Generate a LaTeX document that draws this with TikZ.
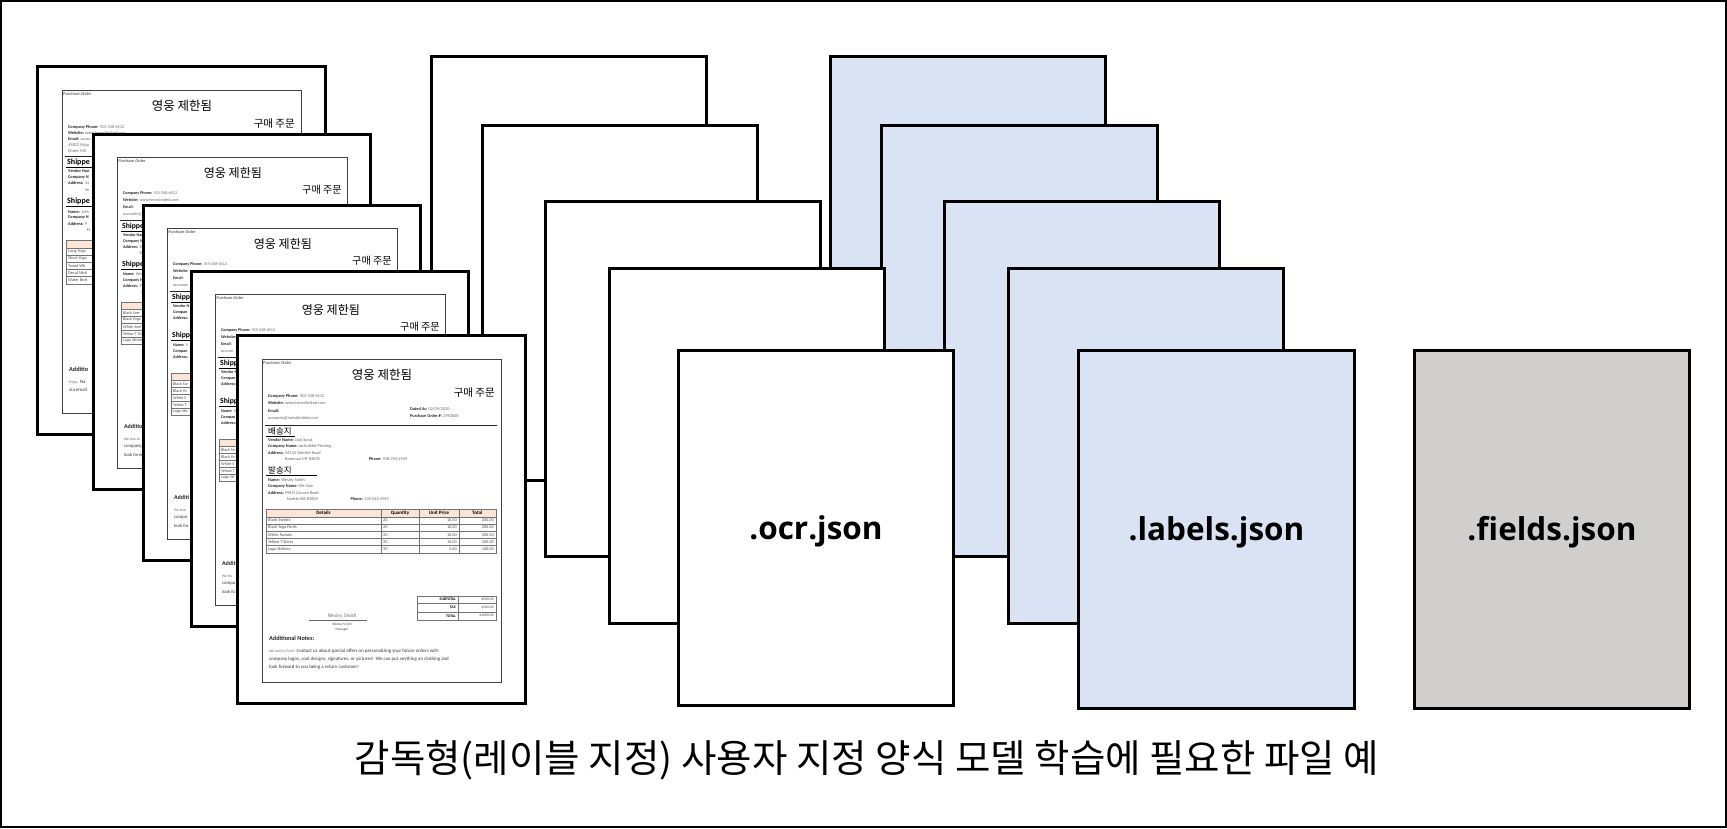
\documentclass[tikz,border=0pt]{standalone}
\usepackage{fontspec}
\setmainfont{Carlito}
\newfontfamily\kr{Noto Sans CJK KR}
\newfontfamily\lblfont{Open Sans}
\newfontfamily\sigfont{Liberation Serif}
\definecolor{pageblue}{RGB}{218,227,243}
\definecolor{pagegray}{RGB}{208,207,206}
\definecolor{peach}{RGB}{252,228,214}
\newcommand{\fs}[1]{\fontsize{#1}{#1}\selectfont}
\newcommand{\lv}[2]{{\bfseries\color{black!85}#1} {\color{black!60}#2}}
\newcommand{\bb}[1]{{\bfseries\color{black!85}#1}}
\tikzset{
  page/.style={draw=black, line width=3pt, fill=white},
  frm/.style={draw=black!75, line width=0.8pt},
  tx/.style={inner sep=0pt, anchor=west, font=\fs{4.3}},
  krt/.style={inner sep=0pt, text=black},
  tbl/.style={draw=black!55, line width=0.35pt},
  hd/.style={tx, font=\fs{8}\bfseries},
  khd/.style={tx, font=\kr\fs{8.5}},
  row/.style={tx, text=black!70},
  addn/.style={tx, font=\fs{6.2}\bfseries, text=black!85},
  note/.style={tx, font=\fs{4.9}, text=black!80},
  notes/.style={tx, font=\fs{3.8}, text=black!60},
  fileb/.style={draw=black, line width=3pt, minimum width=275.5pt, minimum height=355pt, inner sep=0pt},
  lbl/.style={inner sep=0pt, font=\lblfont\bfseries\fs{31.5}},
}
% non-text parts of a purchase-order page
\newcommand{\pgbody}[3]{%
\begin{scope}[shift={#1}, scale=#2]
\draw[page] (0,0) rectangle (288,368);
\draw[frm] (25,24) rectangle (264,347);
\draw[line width=1pt, black!85] (28,90) -- (260,90);
\ifnum#3=1 \draw[line width=0.6pt] (29,100.8) -- (58,100.8); \else \draw[line width=0.6pt] (29,100.8) -- (72,100.8); \fi
\draw[line width=0.6pt] (29,140) -- (80,140);
\fill[peach] (28.7,174) rectangle (258.7,181.7);
\draw[tbl] (28.7,174) rectangle (258.7,217.7);
\foreach \k in {181.7,188.9,196.1,203.3,210.5} \draw[tbl] (28.7,\k) -- (258.7,\k);
\foreach \k in {144,182,222} \draw[tbl] (\k,174) -- (\k,217.7);
\draw[tbl] (180.3,260.7) rectangle (258.7,285);
\draw[tbl] (180.3,268.3) -- (258.7,268.3) (180.3,276.7) -- (258.7,276.7) (220.7,260.7) -- (220.7,285);
\draw[black!60, line width=0.4pt] (72,285) -- (130,285);
\end{scope}}
% top texts shared by every page
\newcommand{\docTop}[1]{%
\node[tx, font=\fs{4.5}\itshape, text=black!80] (#1-po) at (26,27.5) {Purchase Order};
\node[krt, font=\kr\fs{12.5}] (#1-t1) at (145,40) {영웅 제한됨};
\node[krt, anchor=east, font=\kr\fs{10.5}] (#1-t2) at (258,58) {구매 주문};
\node[tx] (#1-c1) at (31,61.7) {\lv{Company Phone:}{555-348-6512}};}

\begin{document}
\begin{tikzpicture}[x=1pt,y=-1pt]
\useasboundingbox (0,0) rectangle (1727,828);
\draw[line width=2pt] (1,1) rectangle (1726,827);
% labelled-file stack (blue)
\node[fileb, fill=pageblue] (b1) at (968,233.5) {};
\node[fileb, fill=pageblue] (b2) at (1019.5,303) {};
\node[fileb, fill=pageblue] (b3) at (1082,379) {};
\node[fileb, fill=pageblue] (b4) at (1146,446) {};
\node[fileb, fill=pageblue, minimum height=358pt] (b5) at (1216.5,529) {};
% ocr stack (white)
\node[fileb, fill=white] (w1) at (569,233.5) {};
\node[fileb, fill=white] (w2) at (620,303) {};
\node[fileb, fill=white] (w3) at (683,379) {};
\node[fileb, fill=white] (w4) at (747,446) {};
\node[fileb, fill=white] (w5) at (816,527.5) {};
% fields file
\node[fileb, fill=pagegray, minimum height=358pt] (g1) at (1552,529) {};
\node[lbl] (w5t) at ([yshift=-3.5pt]w5.center) {.ocr.json};
\node[lbl] (b5t) at ([yshift=-3pt]b5.center) {.labels.json};
\node[lbl] (g1t) at ([yshift=-3pt]g1.center) {.fields.json};

% ---- document 1 (back)
\pgbody{(37,66)}{1}{0}
\begin{scope}[shift={(37,66)}, transform shape]
\docTop{d1}
\node[tx] (d1-c2) at (31,67.5) {\lv{Website:}{www.heroslimited.com}};
\node[tx] (d1-c3) at (31,73.3) {\lv{Email:}{accou}};
\node[tx, text=black!60] (d1-c4) at (31,79.1) {49823 Majo};
\node[tx, text=black!60] (d1-c5) at (31,84.9) {Cheer, MS,};
\node[hd] (d1-h1) at (30,96) {Shippe};
\node[tx] (d1-v1) at (31,105) {\bb{Vendor Nan}};
\node[tx] (d1-v2) at (31,111.3) {\bb{Company N}};
\node[tx] (d1-v3) at (31,117.5) {\lv{Address:}{34}};
\node[tx, text=black!60] (d1-v4) at (48,123.7) {Se};
\node[hd] (d1-h2) at (30,135) {Shippe};
\node[tx] (d1-s1) at (31,145.7) {\lv{Name:}{Josh}};
\node[tx] (d1-s2) at (31,151.7) {\bb{Company N}};
\node[tx] (d1-s3) at (31,157.7) {\lv{Address:}{9}};
\node[tx, text=black!60] (d1-s4) at (49.7,164) {Ft};
\node[row] (d1-r1) at (31,185.3) {Long Yoga};
\node[row] (d1-r2) at (31,192.5) {Short Yoga};
\node[row] (d1-r3) at (31,199.7) {Towel Wh};
\node[row] (d1-r4) at (31,206.9) {Decal Stick};
\node[row] (d1-r5) at (31,214.1) {Water Bott};
\node[addn] (d1-an) at (32,303.3) {Additio};
\node[note] (d1-n1) at (32,316.7) {{\fs{3.8}\color{black!60}Enjoy.} Na};
\node[note] (d1-n2) at (32,324.3) {via email};
\end{scope}

% ---- document 2 (back)
\pgbody{(93,134)}{0.965}{0}
\begin{scope}[shift={(93,134)}, scale=0.965, transform shape]
\docTop{d2}
\node[tx] (d2-c2) at (31,68.3) {\lv{Website:}{www.heroslimited.com}};
\node[tx] (d2-c3) at (31,75.7) {\bb{Email:}};
\node[tx, text=black!60] (d2-c4) at (31,83.3) {accounts@h};
\node[hd] (d2-h1) at (30,96) {Shippe};
\node[tx] (d2-v1) at (31,105) {\bb{Vendor Nam}};
\node[tx] (d2-v2) at (31,111.3) {\bb{Company N}};
\node[tx] (d2-v3) at (31,117.5) {\lv{Address:}{34}};
\node[tx, text=black!60] (d2-v4) at (48,123.7) {Bo};
\node[hd] (d2-h2) at (30,135) {Shippe};
\node[tx] (d2-s1) at (31,145.7) {\lv{Name:}{Wes}};
\node[tx] (d2-s2) at (31,151.7) {\bb{Company N}};
\node[tx] (d2-s3) at (31,157.7) {\lv{Address:}{99}};
\node[tx, text=black!60] (d2-s4) at (49.7,164) {Se};
\node[row] (d2-r1) at (31,185.3) {Black Swe};
\node[row] (d2-r2) at (31,192.5) {Black Yoga};
\node[row] (d2-r3) at (31,199.7) {White Swe};
\node[row] (d2-r4) at (31,206.9) {Yellow T Sh};
\node[row] (d2-r5) at (31,214.1) {Logo Sticke};
\node[addn] (d2-an) at (32,303.3) {Additio};
\node[notes] (d2-n1) at (32,316.7) {We love to};
\node[note] (d2-n2) at (32,324.3) {company};
\node[note] (d2-n3) at (32,332.7) {look forw};
\end{scope}

% ---- document 3 (back)
\pgbody{(143,205)}{0.965}{0}
\begin{scope}[shift={(143,205)}, scale=0.965, transform shape]
\docTop{d3}
\node[tx] (d3-c2) at (31,68.3) {\bb{Website:}};
\node[tx] (d3-c3) at (31,75.7) {\bb{Email:}};
\node[tx, text=black!60] (d3-c4) at (31,83.3) {accounts};
\node[hd] (d3-h1) at (30,96) {Shipp};
\node[tx] (d3-v1) at (31,105) {\bb{Vendor N}};
\node[tx] (d3-v2) at (31,111.3) {\bb{Compan}};
\node[tx] (d3-v3) at (31,117.5) {\bb{Address:}};
\node[hd] (d3-h2) at (30,135) {Shipp};
\node[tx] (d3-s1) at (31,145.7) {\lv{Name:}{V}};
\node[tx] (d3-s2) at (31,151.7) {\bb{Compan}};
\node[tx] (d3-s3) at (31,157.7) {\bb{Address:}};
\node[row] (d3-r1) at (31,185.3) {Black Sw};
\node[row] (d3-r2) at (31,192.5) {Black Yo};
\node[row] (d3-r3) at (31,199.7) {White S};
\node[row] (d3-r4) at (31,206.9) {Yellow T};
\node[row] (d3-r5) at (31,214.1) {Logo Stic};
\node[addn] (d3-an) at (32,303.3) {Additi};
\node[notes] (d3-n1) at (32,316.7) {We love};
\node[note] (d3-n2) at (32,324.3) {compa};
\node[note] (d3-n3) at (32,332.7) {look for};
\end{scope}

% ---- document 4 (back)
\pgbody{(191,271)}{0.965}{0}
\begin{scope}[shift={(191,271)}, scale=0.965, transform shape]
\docTop{d4}
\node[tx] (d4-c2) at (31,68.3) {\bb{Website:}};
\node[tx] (d4-c3) at (31,75.7) {\bb{Email:}};
\node[tx, text=black!60] (d4-c4) at (31,83.3) {accoun};
\node[hd] (d4-h1) at (30,96) {Shipp};
\node[tx] (d4-v1) at (31,105) {\bb{Vendor N}};
\node[tx] (d4-v2) at (31,111.3) {\bb{Compan}};
\node[tx] (d4-v3) at (31,117.5) {\bb{Address:}};
\node[hd] (d4-h2) at (30,135) {Shipp};
\node[tx] (d4-s1) at (31,145.7) {\lv{Name:}{V}};
\node[tx] (d4-s2) at (31,151.7) {\bb{Compan}};
\node[tx] (d4-s3) at (31,157.7) {\bb{Address:}};
\node[row] (d4-r1) at (31,185.3) {Black Se};
\node[row] (d4-r2) at (31,192.5) {Black Yo};
\node[row] (d4-r3) at (31,199.7) {White S};
\node[row] (d4-r4) at (31,206.9) {Yellow T};
\node[row] (d4-r5) at (31,214.1) {Logo Sti};
\node[addn] (d4-an) at (32,303.3) {Addit};
\node[notes] (d4-n1) at (32,316.7) {We lov};
\node[note] (d4-n2) at (32,324.3) {compa};
\node[note] (d4-n3) at (32,332.7) {look fo};
\end{scope}

% ---- document 5 (front, complete)
\pgbody{(237,335)}{1}{1}
\begin{scope}[shift={(237,335)}, transform shape]
\docTop{d5}
\node[tx] (d5-c2) at (31,68.3) {\lv{Website:}{www.heroslimited.com}};
\node[tx] (d5-c3) at (31,75.7) {\bb{Email:}};
\node[tx, text=black!60] (d5-c4) at (31,83.3) {accounts@heroslimited.com};
\node[tx] (d5-d1) at (173,74) {\lv{Dated As:}{02/09/2020}};
\node[tx] (d5-d2) at (173,80.7) {\lv{Purchase Order \#:}{2992848}};
\node[khd] (d5-h1) at (31,96) {배송지};
\node[khd] (d5-h2) at (31,135) {발송지};
\node[tx] (d5-v1) at (31,105) {\lv{Vendor Name:}{Jack Sprat}};
\node[tx] (d5-v2) at (31,111.3) {\lv{Company Name:}{Jackrabbit Printing}};
\node[tx] (d5-v3) at (31,117.5) {\lv{Address:}{342 W Wrinkle Road}};
\node[tx, text=black!60] (d5-v4) at (48,123.7) {Bozeman MT 83839};
\node[tx] (d5-v5) at (131.7,123.7) {\lv{Phone:}{938-294-2949}};
\node[tx] (d5-s1) at (31,145.7) {\lv{Name:}{Wesley Smith}};
\node[tx] (d5-s2) at (31,151.7) {\lv{Company Name:}{We Sew}};
\node[tx] (d5-s3) at (31,157.7) {\lv{Address:}{998 N Groove Road}};
\node[tx, text=black!60] (d5-s4) at (49.7,164) {Seattle WA 83838};
\node[tx] (d5-s5) at (113.3,164) {\lv{Phone:}{334-244-2949}};
\node[krt, font=\fs{5}\bfseries] (d5-th1) at (86.4,177.9) {Details};
\node[krt, font=\fs{5}\bfseries] (d5-th2) at (163,177.9) {Quantity};
\node[krt, font=\fs{5}\bfseries] (d5-th3) at (202,177.9) {Unit Price};
\node[krt, font=\fs{5}\bfseries] (d5-th4) at (240.3,177.9) {Total};
\foreach \a/\b/\c/\d [count=\i, evaluate=\i as \yy using 178.1+7.2*\i] in {Black Sweats/20/10.00/200.00, Black Yoga Pants/20/10.00/200.00, White Sweats/20/10.00/200.00, Yellow T Shirts/20/10.00/200.00, Logo Stickers/20/5.00/100.00} {
  \node[row] (d5-ra\i) at (31,\yy) {\a};
  \node[row] (d5-rb\i) at (146,\yy) {\b};
  \node[row, anchor=east] (d5-rc\i) at (220,\yy) {\c};
  \node[row, anchor=east] (d5-rd\i) at (257,\yy) {\d};
}
\node[tx, anchor=east, font=\fs{3.8}\bfseries] (d5-u1) at (219,264.5) {SUBTOTAL};
\node[tx, anchor=east, font=\fs{3.8}\bfseries] (d5-u2) at (219,272.5) {TAX};
\node[tx, anchor=east, font=\fs{3.8}\bfseries] (d5-u3) at (219,280.8) {TOTAL};
\node[tx, anchor=east, font=\fs{3.8}, text=black!70] (d5-w1) at (257,264.5) {\$900.00};
\node[tx, anchor=east, font=\fs{3.8}, text=black!70] (d5-w2) at (257,272.5) {\$100.00};
\node[tx, anchor=east, font=\fs{3.8}, text=black!70] (d5-w3) at (257,280.8) {\$1000.00};
\node[krt, font=\sigfont\itshape\fs{5.5}, text=black!60] (d5-sg) at (105,281.3) {Wesley Smith};
\node[krt, font=\fs{3.5}, text=black!70] (d5-sn) at (105,289.3) {Wesley Smith};
\node[krt, font=\fs{3.5}, text=black!70] (d5-sm) at (105,294.3) {Manager};
\node[addn] (d5-an) at (32,303.3) {Additional Notes:};
\node[note] (d5-n1) at (32,316.7) {{\fs{3.8}\color{black!60}We love to Print!} Contact us about special offers on personalizing your future orders with};
\node[note] (d5-n2) at (32,324.3) {company logos, cool designs, signatures, or pictures!\ \ We can put anything on clothing and};
\node[note] (d5-n3) at (32,332.7) {look forward to you being a return customer!};
\end{scope}

\node[inner sep=0pt, font=\kr\fs{38.5}] (cap) at (867,760) {감독형(레이블 지정) 사용자 지정 양식 모델 학습에 필요한 파일 예};
\end{tikzpicture}
\end{document}
